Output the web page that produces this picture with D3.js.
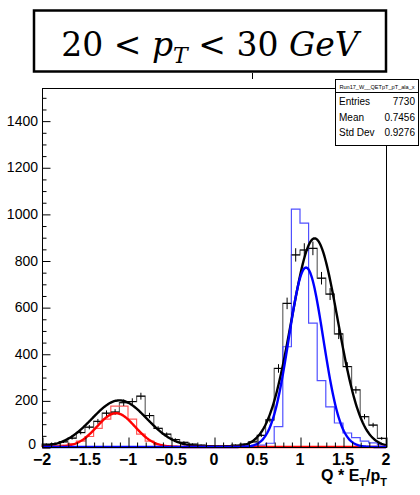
<!DOCTYPE html>
<html>
<head>
<meta charset="utf-8">
<script src="https://cdn.jsdelivr.net/npm/d3@7/dist/d3.min.js"></script>
<style>
  html, body { margin: 0; padding: 0; background: #fff; }
  svg { display: block; }
</style>
</head>
<body>
<script>
// Histogram binning: 40 bins of width 0.1 on [-2, 2]
const binLow = -2;
const binWidth = 0.1;

// Total sample (black points with errors)
const dataCounts = [
  12, 15, 22, 38, 62, 85, 110, 145, 150, 190,
  195, 218, 135, 80, 55, 32, 20, 12, 8, 6,
  5, 6, 8, 12, 22, 50, 116, 337, 616, 824,
  845, 852, 724, 656, 485, 345, 245, 130, 94, 37
];

// Positive-charge component (blue)
const posCounts = [
  0, 0, 0, 0, 0, 0, 0, 0, 0, 0,
  0, 0, 0, 0, 0, 0, 0, 0, 0, 0,
  0, 0, 1, 2, 4, 8, 16, 87, 430, 1020,
  960, 531, 285, 172, 103, 60, 40, 25, 18, 10
];

// Negative-charge component (red)
const negCounts = [
  3, 5, 8, 15, 25, 45, 80, 120, 175, 175,
  120, 55, 25, 10, 5, 3, 1, 0, 0, 0,
  0, 0, 0, 0, 0, 0, 0, 0, 0, 0,
  0, 0, 0, 0, 0, 0, 0, 0, 0, 0
];

// Gaussian fit parameters [amplitude, mean, sigma]
const fitBlue = [[770, 1.07, 0.20]];
const fitRed = [[145, -1.14, 0.22]];
const fitBlack = [[200, -1.10, 0.32], [895, 1.17, 0.27]];

const xTicksMajor = [-2, -1.5, -1, -0.5, 0, 0.5, 1, 1.5, 2];
const yTicksMajor = [0, 200, 400, 600, 800, 1000, 1200, 1400];

const statsTitle = "Run17_W__QETpT_pT_ala_x";
const statsRows = [["Entries", "7730"], ["Mean", "0.7456"], ["Std Dev", "0.9276"]];

const W = 420, H = 495;
const frame = { left: 42, right: 386, top: 88, bottom: 447 };

const svg = d3.select("body").append("svg")
  .attr("width", W).attr("height", H)
  .attr("font-family", "'Liberation Sans', Arial, Helvetica, sans-serif");

const x = d3.scaleLinear().domain([-2, 2]).range([frame.left, frame.right]);
const y = d3.scaleLinear().domain([0, 1540]).range([frame.bottom, frame.top]);

const plot = svg.append("g");

// Step outline for a histogram
function stepPath(counts) {
  const pts = [];
  counts.forEach((c, i) => {
    const lo = binLow + i * binWidth, hi = lo + binWidth;
    pts.push([x(lo), y(c)], [x(hi), y(c)]);
  });
  pts.unshift([x(binLow), y(0)]);
  pts.push([x(binLow + counts.length * binWidth), y(0)]);
  return d3.line()(pts);
}

function gaussSum(params, v) {
  return d3.sum(params, p => p[0] * Math.exp(-0.5 * Math.pow((v - p[1]) / p[2], 2)));
}

function curvePath(params) {
  const xs = d3.range(0, 401).map(i => -2 + i * 0.01);
  return d3.line().curve(d3.curveLinear)
    .x(v => x(v)).y(v => y(gaussSum(params, v)))(xs);
}

// Histograms
plot.append("path").attr("d", stepPath(dataCounts))
  .attr("fill", "none").attr("stroke", "#666").attr("stroke-width", 1.2);
plot.append("path").attr("d", stepPath(negCounts))
  .attr("fill", "none").attr("stroke", "#ff5a5a").attr("stroke-width", 1.2);
plot.append("path").attr("d", stepPath(posCounts))
  .attr("fill", "none").attr("stroke", "#5050ff").attr("stroke-width", 1.2);

// Data points with statistical errors
const pts = plot.append("g").attr("stroke", "#000").attr("stroke-width", 1);
dataCounts.forEach((c, i) => {
  if (c <= 0) return;
  const lo = binLow + i * binWidth, hi = lo + binWidth, mid = lo + binWidth / 2;
  const e = Math.sqrt(c);
  pts.append("line").attr("x1", x(lo)).attr("x2", x(hi)).attr("y1", y(c)).attr("y2", y(c));
  pts.append("line").attr("x1", x(mid)).attr("x2", x(mid))
    .attr("y1", y(Math.min(c + e, 1540))).attr("y2", y(Math.max(c - e, 0)));
});

// Fit curves
plot.append("path").attr("d", curvePath(fitBlack))
  .attr("fill", "none").attr("stroke", "#000").attr("stroke-width", 2.4);
plot.append("path").attr("d", curvePath(fitRed))
  .attr("fill", "none").attr("stroke", "#ff0000").attr("stroke-width", 2.4);
plot.append("path").attr("d", curvePath(fitBlue))
  .attr("fill", "none").attr("stroke", "#0000ff").attr("stroke-width", 2.4);

// Frame
svg.append("rect")
  .attr("x", frame.left + 0.5).attr("y", frame.top + 0.5)
  .attr("width", frame.right - frame.left).attr("height", frame.bottom - frame.top)
  .attr("fill", "none").attr("stroke", "#000").attr("stroke-width", 1);

// X axis: ticks inside the frame, pointing up
const xAxis = d3.axisTop(x)
  .tickValues(xTicksMajor).tickSize(10).tickFormat("");
svg.append("g").attr("transform", `translate(0.5,${frame.bottom + 0.5})`).call(xAxis)
  .call(g => g.select(".domain").remove());
const xMinor = d3.range(-20, 21).map(i => i / 10).filter(v => Math.abs(v * 2 - Math.round(v * 2)) > 1e-6);
svg.append("g").attr("transform", `translate(0.5,${frame.bottom + 0.5})`)
  .call(d3.axisTop(x).tickValues(xMinor).tickSize(5).tickFormat(""))
  .call(g => g.select(".domain").remove());

svg.append("g").selectAll("text").data(xTicksMajor).join("text")
  .attr("x", d => x(d)).attr("y", frame.bottom + 18)
  .attr("text-anchor", "middle").attr("font-size", 16).attr("font-weight", "bold")
  .text(d => d3.format("")(d).replace("-", "\u2212"));

// Y axis: ticks inside the frame, pointing right
svg.append("g").attr("transform", `translate(${frame.left + 0.5},0.5)`)
  .call(d3.axisRight(y).tickValues(yTicksMajor).tickSize(8).tickFormat(""))
  .call(g => g.select(".domain").remove());
svg.append("g").attr("transform", `translate(${frame.left + 0.5},0.5)`)
  .call(d3.axisRight(y).tickValues(d3.range(50, 1540, 50).filter(v => v % 200 !== 0)).tickSize(4).tickFormat(""))
  .call(g => g.select(".domain").remove());

svg.append("g").selectAll("text").data(yTicksMajor).join("text")
  .attr("x", d => d === 0 ? frame.left - 6 : frame.left - 4)
  .attr("y", d => d === 0 ? y(d) + 2 : y(d) + 5)
  .attr("text-anchor", "end").attr("font-size", 14)
  .text(d => d);

// X axis title
const xt = svg.append("text")
  .attr("x", frame.right + 1).attr("y", 481)
  .attr("text-anchor", "end").attr("font-size", 16).attr("font-weight", "bold");
xt.append("tspan").text("Q * E");
xt.append("tspan").attr("font-size", 11).attr("dy", 5).text("T");
xt.append("tspan").attr("dy", -5).text("/p");
xt.append("tspan").attr("font-size", 11).attr("dy", 5).text("T");

// Remnant of the original histogram title
svg.append("line").attr("x1", 252.5).attr("x2", 252.5).attr("y1", 73).attr("y2", 79)
  .attr("stroke", "#000").attr("stroke-width", 1);

// Statistics box
const sb = svg.append("g");
sb.append("rect").attr("x", 335.5).attr("y", 79.5).attr("width", 83).attr("height", 66)
  .attr("fill", "#fff").attr("stroke", "#000").attr("stroke-width", 1);
sb.append("line").attr("x1", 335.5).attr("x2", 418.5).attr("y1", 92.5).attr("y2", 92.5)
  .attr("stroke", "#000").attr("stroke-width", 1);
sb.append("text").attr("x", 377).attr("y", 88.5).attr("text-anchor", "middle")
  .attr("font-size", 5.6).text(statsTitle);
statsRows.forEach((r, i) => {
  const yy = 105 + i * 15.5;
  sb.append("text").attr("x", 339).attr("y", yy).attr("font-size", 10).text(r[0]);
  sb.append("text").attr("x", 415).attr("y", yy).attr("text-anchor", "end")
    .attr("font-size", 10).text(r[1]);
});

// Kinematic range label
const tb = svg.append("g");
tb.append("rect").attr("x", 34).attr("y", 10.5).attr("width", 352).attr("height", 61)
  .attr("fill", "#fff").attr("stroke", "#000").attr("stroke-width", 2.5);
const tt = tb.append("text").attr("x", 210).attr("y", 56)
  .attr("text-anchor", "middle").attr("font-size", 33)
  .attr("font-family", "'DejaVu Serif', 'Liberation Serif', serif");
tt.append("tspan").text("20 < ");
tt.append("tspan").attr("font-style", "italic").text("p");
tt.append("tspan").attr("font-style", "italic").attr("font-size", 22).attr("dy", 7).text("T");
tt.append("tspan").attr("dy", -7).text(" < 30 ");
tt.append("tspan").attr("font-style", "italic").text("GeV");
</script>
</body>
</html>
